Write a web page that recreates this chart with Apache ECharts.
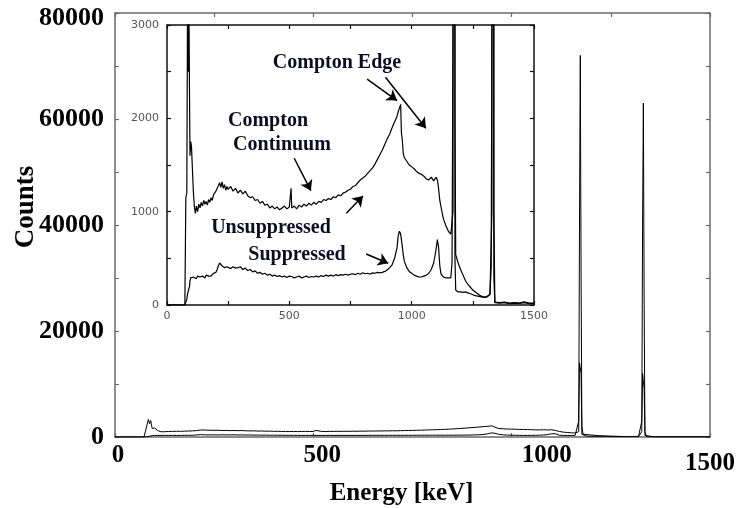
<!DOCTYPE html>
<html lang="en">
<head>
    <meta charset="UTF-8">
    <title>Compton suppression spectrum</title>
    <style>
        html, body { margin: 0; padding: 0; background: #fff; }
        #main { width: 738px; height: 508px; }
    </style>
</head>
<body>
<div id="main"></div>
<script src="https://cdn.jsdelivr.net/npm/echarts@6/dist/echarts.min.js"></script>
<script>
    // energy bins (keV)
    const energy = [
        0, 60, 73, 77, 81, 84, 87, 90, 92, 94, 97, 100, 104, 108, 112, 116, 120,
        125, 130, 135, 140, 145, 150, 155, 160, 165, 170, 175, 180, 185, 190, 195, 200, 205, 210, 215, 220, 225, 230, 235, 240, 245,
        250, 260, 270, 280, 290, 300, 310, 320, 330, 340, 350, 360, 370, 380, 390, 400, 410, 420, 430, 440, 450, 460, 470, 480, 490, 500,
        507,
        510, 520, 530, 540, 550, 560, 570, 580, 590, 600, 610, 620, 630, 640, 650, 660, 670, 680, 690, 700, 710, 720,
        730, 740, 750, 760, 770, 780, 790, 800, 810, 820, 830, 840, 850, 860, 870, 880, 890, 900, 910, 920, 930, 940,
        945, 950, 955, 958, 962, 966, 970, 980, 990, 1000, 1010, 1020, 1030, 1040, 1050, 1060, 1070, 1080, 1090, 1100, 1105, 1110, 1115, 1120, 1130, 1140, 1150, 1160, 1165,
        1169, 1171, 1173, 1175, 1177, 1180, 1190, 1200, 1210, 1220, 1230, 1240, 1250, 1260, 1270, 1280, 1290, 1300, 1310, 1320, 1325,
        1328, 1330, 1332, 1334, 1336, 1340, 1360, 1380, 1400, 1420, 1440, 1460, 1480, 1500
    ];
    // counts without the anti-Compton shield
    const unsuppressed = [
        0, 0, 0, 1150, 1200, 3300, 2500, 3100, 2250, 1600, 1750, 1700, 1450, 1200, 1050, 980, 1060,
        1000, 1080, 1040, 1100, 1060, 1120, 1080, 1110, 1070, 1130, 1100, 1150, 1120, 1180, 1160, 1220, 1200, 1280, 1310, 1260, 1320, 1250, 1290, 1230, 1270,
        1240, 1270, 1220, 1250, 1200, 1230, 1190, 1220, 1170, 1150, 1160, 1120, 1130, 1090, 1110, 1070, 1080, 1040, 1060, 1030, 1050, 1020, 1040, 1060, 1030, 1050,
        1250,
        1040, 1060, 1030, 1070, 1050, 1080, 1060, 1090, 1070, 1100, 1080, 1110, 1100, 1130, 1120, 1140, 1130, 1160, 1150, 1180, 1170, 1200,
        1210, 1230, 1240, 1270, 1280, 1310, 1340, 1360, 1380, 1410, 1440, 1470, 1510, 1560, 1610, 1660, 1720, 1780, 1830, 1900, 1960, 2020,
        2070, 2110, 2150, 1850, 1760, 1620, 1580, 1540, 1500, 1480, 1460, 1430, 1410, 1400, 1380, 1350, 1340, 1370, 1330, 1370, 1340, 1250, 1120, 1050, 920, 850, 790, 760, 740,
        1000, 40000, 72000, 30000, 2000, 540, 450, 380, 320, 260, 220, 190, 160, 140, 120, 100, 90, 85, 95, 110, 130,
        1000, 40000, 63000, 25000, 1000, 30, 25, 30, 20, 25, 20, 35, 20, 20
    ];
    // counts with the shield vetoing
    const suppressed = [
        0, 0, 0, 20, 60, 120, 150, 160, 200, 260, 290, 300, 280, 300, 290, 300, 280,
        310, 290, 300, 280, 310, 300, 290, 320, 300, 310, 330, 310, 320, 340, 330, 350, 380, 420, 450, 440, 420, 430, 400, 420, 410,
        400, 390, 410, 395, 400, 410, 380, 395, 370, 380, 355, 365, 340, 350, 330, 340, 320, 330, 310, 320, 305, 315, 300, 310, 295, 310,
        300,
        305, 290, 300, 310, 290, 300, 310, 295, 305, 300, 310, 300, 315, 305, 320, 310, 320, 310, 325, 315, 325, 320,
        330, 320, 330, 335, 325, 340, 330, 345, 335, 340, 330, 345, 340, 350, 345, 350, 360, 375, 400, 430, 500, 610,
        740, 790, 760, 700, 620, 530, 470, 400, 360, 340, 320, 310, 300, 300, 310, 320, 340, 380, 450, 600, 700, 620, 420, 330, 300, 290, 290, 290, 450,
        3000, 14000, 14100, 12000, 500, 160, 140, 140, 135, 140, 130, 120, 110, 100, 95, 90, 85, 80, 90, 120, 400,
        3000, 12000, 12200, 9000, 300, 25, 20, 25, 15, 20, 18, 25, 15, 15
    ];

    const mainTicks = ['0', '500', '1000', '1500'];
    const insetTicks = ['0', '500', '1000', '1500'];
    const countTicks = ['0', '20000', '40000', '60000', '80000'];

    const uData = energy.map((e, i) => [e, unsuppressed[i]]);
    const sData = energy.map((e, i) => [e, suppressed[i]]);

    const serif = 'Liberation Serif';
    const ink = '#0c0c26';
    const frame = '#6a6a6a';

    // arrows in the inset, in keV / counts
    const arrows = [
        [[818, 2419], [940, 2190]],
        [[893, 2440], [1058, 1894]],
        [[520, 1572], [588, 1225]],
        [[733, 983], [801, 1168]],
        [[814, 547], [904, 447]]
    ];

    const myChart = echarts.init(document.getElementById('main'));

    const frameAxis = (color) => ({
        axisLine: { onZero: false, lineStyle: { color: color, width: 1.5 } },
        axisTick: { inside: true, length: 4, lineStyle: { color: color, width: 1.2 } },
        splitLine: { show: false }
    });

    const boldLabel = { fontFamily: serif, fontWeight: 'bold', color: '#000' };

    const option = {
        backgroundColor: '#fff',
        animation: false,
        grid: [
            { left: 115, right: 28, top: 13, bottom: 71, containLabel: false, outerBoundsMode: 'none' },
            { left: 167, right: 204, top: 25, bottom: 203, containLabel: false, outerBoundsMode: 'none',
              show: true, backgroundColor: '#fff', borderWidth: 0, z: 3 }
        ],
        xAxis: [
            Object.assign(frameAxis(frame), {
                type: 'value', gridIndex: 0, position: 'bottom', min: 0, max: 1500, interval: 500,
                axisLabel: {
                    margin: 6,
                    formatter: v => {
                        const i = mainTicks.indexOf(String(v));
                        return '{t' + i + '|' + mainTicks[i] + '}';
                    },
                    rich: {
                        t0: Object.assign({ fontSize: 25, padding: [0, 0, 0, 6] }, boldLabel),
                        t1: Object.assign({ fontSize: 25, padding: [0, 0, 0, 18] }, boldLabel),
                        t2: Object.assign({ fontSize: 25, padding: [0, 0, 0, 70] }, boldLabel),
                        t3: Object.assign({ fontSize: 25, padding: [8, 0, 0, 0] }, boldLabel)
                    }
                },
                name: 'Energy [keV]', nameLocation: 'middle', nameGap: 44, nameMoveOverlap: false,
                nameTextStyle: Object.assign({ fontSize: 25, padding: [0, 22, 0, 0] }, boldLabel)
            }),
            Object.assign(frameAxis(frame), {
                type: 'value', gridIndex: 0, position: 'top', min: 0, max: 1500, interval: 250,
                axisLabel: { show: false }
            }),
            Object.assign(frameAxis('#111'), {
                type: 'value', gridIndex: 1, position: 'bottom', min: 0, max: 1500, interval: 250, z: 4,
                axisLabel: {
                    margin: 6, fontFamily: 'DejaVu Sans', fontSize: 11, color: '#555',
                    formatter: v => insetTicks.includes(String(v)) ? String(v) : ''
                }
            }),
            Object.assign(frameAxis('#111'), {
                type: 'value', gridIndex: 1, position: 'top', min: 0, max: 1500, interval: 250, z: 4,
                axisLabel: { show: false }
            })
        ],
        yAxis: [
            Object.assign(frameAxis(frame), {
                type: 'value', gridIndex: 0, position: 'left', min: 0, max: 80000, interval: 20000,
                minorTick: { show: true, splitNumber: 2, length: 4, lineStyle: { color: frame } },
                axisLabel: {
                    margin: 11,
                    formatter: v => {
                        if (!countTicks.includes(String(v))) return '';
                        return (v === 80000 ? '{top|' : '{n|') + v + '}';
                    },
                    rich: {
                        n: Object.assign({ fontSize: 26 }, boldLabel),
                        top: Object.assign({ fontSize: 26, padding: [10, 0, 0, 0] }, boldLabel)
                    }
                },
                name: 'Counts', nameLocation: 'middle', nameGap: 75, nameMoveOverlap: false,
                nameTextStyle: Object.assign({ fontSize: 27, padding: [0, 0, 0, 36] }, boldLabel)
            }),
            Object.assign(frameAxis(frame), {
                type: 'value', gridIndex: 0, position: 'right', min: 0, max: 80000, interval: 10000,
                axisLabel: { show: false }
            }),
            Object.assign(frameAxis('#111'), {
                type: 'value', gridIndex: 1, position: 'left', min: 0, max: 3000, interval: 500, z: 4,
                axisLabel: {
                    margin: 8, fontFamily: 'DejaVu Sans', fontSize: 11, color: '#555',
                    formatter: v => v % 1000 === 0 ? String(v) : ''
                }
            }),
            Object.assign(frameAxis('#111'), {
                type: 'value', gridIndex: 1, position: 'right', min: 0, max: 3000, interval: 500, z: 4,
                axisLabel: { show: false }
            })
        ],
        series: [
            {
                name: 'Unsuppressed', type: 'line', xAxisIndex: 0, yAxisIndex: 0, data: uData,
                showSymbol: false, lineStyle: { color: '#000', width: 1 }
            },
            {
                name: 'Suppressed', type: 'line', xAxisIndex: 0, yAxisIndex: 0, data: sData,
                showSymbol: false, lineStyle: { color: '#000', width: 1 }
            },
            {
                name: 'Unsuppressed inset', type: 'line', xAxisIndex: 2, yAxisIndex: 2, data: uData, z: 5,
                showSymbol: false, clip: true, lineStyle: { color: '#000', width: 1.2 },
                markLine: {
                    silent: true, symbol: ['none', 'arrow'], symbolSize: 10,
                    label: { show: false },
                    lineStyle: { color: '#000', width: 1.5, type: 'solid' },
                    emphasis: { disabled: true },
                    data: arrows.map(a => [{ coord: a[0] }, { coord: a[1] }])
                }
            },
            {
                name: 'Suppressed inset', type: 'line', xAxisIndex: 2, yAxisIndex: 2, data: sData, z: 5,
                showSymbol: false, clip: true, lineStyle: { color: '#000', width: 1.2 }
            }
        ],
        graphic: [
            { type: 'text', x: 337, y: 63, z: 10, style: { text: 'Compton Edge', font: 'bold 20px "Liberation Serif"', fill: ink, align: 'center', verticalAlign: 'middle' } },
            { type: 'text', x: 268, y: 121, z: 10, style: { text: 'Compton', font: 'bold 20px "Liberation Serif"', fill: ink, align: 'center', verticalAlign: 'middle' } },
            { type: 'text', x: 282, y: 145, z: 10, style: { text: 'Continuum', font: 'bold 20px "Liberation Serif"', fill: ink, align: 'center', verticalAlign: 'middle' } },
            { type: 'text', x: 271, y: 228, z: 10, style: { text: 'Unsuppressed', font: 'bold 20px "Liberation Serif"', fill: ink, align: 'center', verticalAlign: 'middle' } },
            { type: 'text', x: 297, y: 255, z: 10, style: { text: 'Suppressed', font: 'bold 20px "Liberation Serif"', fill: ink, align: 'center', verticalAlign: 'middle' } }
        ]
    };

    myChart.setOption(option);
</script>
</body>
</html>
